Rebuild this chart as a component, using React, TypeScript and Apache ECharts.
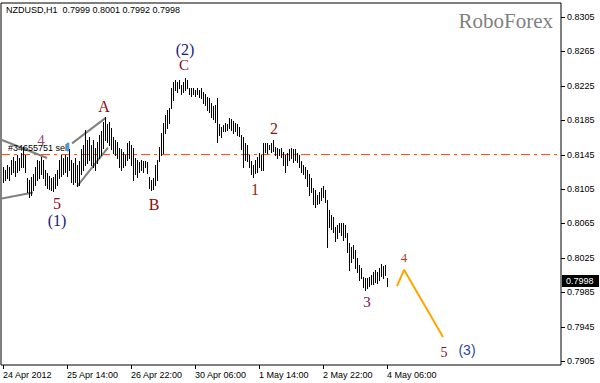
import React, { useEffect, useRef } from "react";
import * as echarts from "echarts";

// time axis labels (every 32 hourly bars)
const xLabelIdx = [0, 32, 64, 96, 128, 160, 192];
const xLabels = ["24 Apr 2012", "25 Apr 14:00", "26 Apr 22:00", "30 Apr 06:00", "1 May 14:00", "2 May 22:00", "4 May 06:00"];

// price axis tick labels
const yTicks = [0.7905, 0.7945, 0.7985, 0.8025, 0.8065, 0.8105, 0.8145, 0.8185, 0.8225, 0.8265, 0.8305];

// hourly bars: highs and lows (NZDUSD H1)
const highs = [
  0.8131, 0.8127, 0.8133, 0.8130, 0.8139, 0.8142, 0.8137, 0.8145, 0.8141, 0.8147, 0.8154, 0.8145, 0.8118, 0.8116, 0.8119, 0.8122,
  0.8130, 0.8139, 0.8137, 0.8142, 0.8139, 0.8127, 0.8124, 0.8120, 0.8118, 0.8119, 0.8122, 0.8127, 0.8139, 0.8144, 0.8141, 0.8145,
  0.8142, 0.8152, 0.8139, 0.8135, 0.8141, 0.8133, 0.8137, 0.8151, 0.8156, 0.8174, 0.8162, 0.8165, 0.8156, 0.8162, 0.8153, 0.8160,
  0.8168, 0.8172, 0.8183, 0.8189, 0.8180, 0.8183, 0.8176, 0.8166, 0.8162, 0.8160, 0.8153, 0.8151, 0.8148, 0.8145, 0.8159, 0.8161,
  0.8156, 0.8153, 0.8141, 0.8139, 0.8136, 0.8139, 0.8137, 0.8138, 0.8136, 0.8119, 0.8116, 0.8118, 0.8133, 0.8139, 0.8154, 0.8170,
  0.8182, 0.8191, 0.8197, 0.8199, 0.8223, 0.8230, 0.8232, 0.8229, 0.8232, 0.8226, 0.8230, 0.8234, 0.8232, 0.8223, 0.8222, 0.8223,
  0.8220, 0.8223, 0.8220, 0.8223, 0.8218, 0.8215, 0.8212, 0.8211, 0.8205, 0.8202, 0.8203, 0.8211, 0.8180, 0.8177, 0.8179, 0.8182,
  0.8180, 0.8188, 0.8186, 0.8184, 0.8182, 0.8180, 0.8177, 0.8168, 0.8165, 0.8159, 0.8156, 0.8145, 0.8137, 0.8133, 0.8139, 0.8142,
  0.8147, 0.8145, 0.8159, 0.8158, 0.8159, 0.8156, 0.8159, 0.8162, 0.8154, 0.8153, 0.8151, 0.8153, 0.8148, 0.8145, 0.8147, 0.8151,
  0.8153, 0.8151, 0.8152, 0.8147, 0.8145, 0.8137, 0.8133, 0.8130, 0.8127, 0.8122, 0.8118, 0.8106, 0.8104, 0.8098, 0.8101, 0.8106,
  0.8108, 0.8104, 0.8092, 0.8081, 0.8075, 0.8073, 0.8061, 0.8063, 0.8066, 0.8065, 0.8066, 0.8063, 0.8054, 0.8042, 0.8037, 0.8040,
  0.8034, 0.8025, 0.8017, 0.8013, 0.8003, 0.8002, 0.8001, 0.8003, 0.8005, 0.8009, 0.8011, 0.8009, 0.8013, 0.8018, 0.8015, 0.8017, 0.8001,
];
const lows = [
  0.8113, 0.8115, 0.8118, 0.8116, 0.8122, 0.8125, 0.8120, 0.8125, 0.8127, 0.8130, 0.8130, 0.8125, 0.8102, 0.8096, 0.8098, 0.8104,
  0.8110, 0.8116, 0.8118, 0.8122, 0.8118, 0.8110, 0.8106, 0.8105, 0.8104, 0.8103, 0.8106, 0.8110, 0.8118, 0.8120, 0.8122, 0.8125,
  0.8120, 0.8127, 0.8113, 0.8111, 0.8113, 0.8108, 0.8110, 0.8122, 0.8127, 0.8133, 0.8135, 0.8139, 0.8133, 0.8130, 0.8127, 0.8135,
  0.8141, 0.8145, 0.8153, 0.8162, 0.8160, 0.8156, 0.8151, 0.8147, 0.8144, 0.8141, 0.8130, 0.8127, 0.8131, 0.8133, 0.8139, 0.8141,
  0.8133, 0.8116, 0.8122, 0.8119, 0.8125, 0.8127, 0.8125, 0.8130, 0.8124, 0.8106, 0.8104, 0.8105, 0.8110, 0.8116, 0.8137, 0.8145,
  0.8147, 0.8170, 0.8176, 0.8182, 0.8199, 0.8209, 0.8220, 0.8218, 0.8223, 0.8215, 0.8218, 0.8220, 0.8223, 0.8215, 0.8213, 0.8215,
  0.8213, 0.8216, 0.8212, 0.8211, 0.8205, 0.8203, 0.8197, 0.8195, 0.8189, 0.8186, 0.8183, 0.8160, 0.8168, 0.8165, 0.8172, 0.8172,
  0.8174, 0.8176, 0.8174, 0.8170, 0.8172, 0.8168, 0.8167, 0.8151, 0.8131, 0.8139, 0.8137, 0.8130, 0.8122, 0.8119, 0.8124, 0.8125,
  0.8130, 0.8127, 0.8127, 0.8148, 0.8147, 0.8151, 0.8148, 0.8149, 0.8145, 0.8141, 0.8144, 0.8142, 0.8133, 0.8125, 0.8133, 0.8139,
  0.8141, 0.8136, 0.8139, 0.8136, 0.8130, 0.8125, 0.8122, 0.8118, 0.8108, 0.8098, 0.8101, 0.8087, 0.8084, 0.8087, 0.8089, 0.8092,
  0.8096, 0.8090, 0.8038, 0.8061, 0.8058, 0.8055, 0.8044, 0.8048, 0.8055, 0.8052, 0.8046, 0.8049, 0.8032, 0.8011, 0.8020, 0.8025,
  0.8013, 0.8009, 0.7999, 0.8002, 0.7991, 0.7988, 0.7990, 0.7992, 0.7994, 0.7995, 0.7997, 0.7996, 0.7999, 0.8004, 0.8002, 0.8005, 0.7992,
];

// last bar OHLC
const lastOpen = 0.7999;
const lastHigh = 0.8001;
const lastLow = 0.7992;
const lastClose = 0.7998;

// pending order level
const orderPrice = 0.8145;

// projected wave (bar index, price)
const projX = [197, 200.5, 220];
const projY = [0.7992, 0.8011, 0.7933];

// drawn trend lines (bar index, price pairs)
const trendLines = [
  [[-0.5, 0.8162], [22, 0.8141]],
  [[-0.5, 0.8094], [15, 0.8101]],
  [[34.5, 0.8158], [51.5, 0.8188]],
  [[37, 0.8108], [52.5, 0.8153]],
];

const X_MIN = -1;
const X_MAX = 279;

const SANS = "Liberation Sans, Arial, sans-serif";
const SERIF = "Liberation Serif, Times New Roman, serif";

function waveText(text: string, x: number, y: number, fill: string, size: number, family = SERIF) {
  return {
    type: "text",
    x,
    y,
    z: 100,
    style: {
      text,
      fill,
      font: `${size}px ${family}`,
      align: "center",
      verticalAlign: "middle",
      textAlign: "center",
      textVerticalAlign: "middle",
    },
  };
}

export default function App() {
  const ref = useRef<HTMLDivElement>(null);

  useEffect(() => {
    if (!ref.current) return;
    const chart = echarts.init(ref.current, null, { renderer: "svg" });
    const barData = highs.map((h, i) => [i, h, lows[i]]);

    const option: any = {
      animation: false,
      backgroundColor: "#fff",
      grid: { left: 1, right: 39, top: 3, bottom: 18, show: true, borderColor: "#000", borderWidth: 1, backgroundColor: "transparent" },
      xAxis: {
        type: "value",
        min: X_MIN,
        max: X_MAX,
        axisLine: { show: false },
        splitLine: { show: false },
        axisTick: { show: true, inside: false, customValues: xLabelIdx, length: 4, lineStyle: { color: "#000" } },
        axisLabel: {
          customValues: xLabelIdx,
          formatter: (v: number) => xLabels[xLabelIdx.indexOf(Math.round(v))] ?? "",
          align: "left",
          color: "#000",
          fontSize: 9,
          fontFamily: SANS,
          margin: 5,
        },
      },
      yAxis: {
        type: "value",
        position: "right",
        min: 0.79003,
        max: 0.83213,
        axisLine: { show: false },
        splitLine: { show: false },
        axisTick: { show: false },
        axisLabel: {
          customValues: yTicks,
          formatter: (v: number) => v.toFixed(4),
          color: "#000",
          fontSize: 9,
          fontFamily: SANS,
          margin: 6,
        },
      },
      series: [
        {
          type: "line",
          data: [[X_MIN, orderPrice], [X_MAX, orderPrice]],
          symbol: "none",
          silent: true,
          lineStyle: { color: "#ff4500", type: [9, 4, 3, 4], width: 1 },
          z: 1,
        },
        {
          type: "custom",
          data: barData,
          encode: { x: 0, y: [1, 2] },
          renderItem: (params: any, api: any) => {
            const x = api.value(0);
            const p1 = api.coord([x, api.value(1)]);
            const p2 = api.coord([x, api.value(2)]);
            const px = Math.round(p1[0]) + 0.5;
            return {
              type: "line",
              shape: { x1: px, y1: Math.round(p1[1]), x2: px, y2: Math.round(p2[1]) + 1 },
              style: { stroke: "#000", lineWidth: 1 },
            };
          },
          z: 3,
        },
        ...trendLines.map((seg) => ({
          type: "line",
          data: seg,
          symbol: "none",
          silent: true,
          lineStyle: { color: "#808080", width: 2 },
          z: 2,
        })),
        {
          type: "line",
          data: projX.map((x, i) => [x, projY[i]]),
          symbol: "none",
          silent: true,
          lineStyle: { color: "#ffa500", width: 2 },
          z: 4,
        },
      ],
    };

    chart.setOption(option);

    // current price box and price-scale ticks
    const py = chart.convertToPixel({ yAxisIndex: 0 }, lastClose) as number;
    const right = chart.convertToPixel({ xAxisIndex: 0 }, X_MAX) as number;
    const tickMarks = yTicks.map((v) => {
      const ty = Math.round(chart.convertToPixel({ yAxisIndex: 0 }, v) as number) + 0.5;
      return {
        type: "line",
        z: 50,
        shape: { x1: right, y1: ty, x2: right + 4, y2: ty },
        style: { stroke: "#000", lineWidth: 1 },
      };
    });

    chart.setOption({
      graphic: [
        ...tickMarks,
        {
          type: "text",
          x: 6,
          y: 10,
          z: 100,
          style: {
            text: `NZDUSD,H1  ${lastOpen.toFixed(4)} ${lastHigh.toFixed(4)} ${lastLow.toFixed(4)} ${lastClose.toFixed(4)}`,
            fill: "#000",
            font: `9px ${SANS}`,
            verticalAlign: "middle",
            textVerticalAlign: "middle",
          },
        },
        {
          type: "text",
          x: 553,
          y: 21,
          z: 100,
          style: {
            text: "RoboForex",
            fill: "#808080",
            font: `21px ${SERIF}`,
            align: "right",
            textAlign: "right",
            verticalAlign: "middle",
            textVerticalAlign: "middle",
          },
        },
        waveText("4", 41, 140, "#9a4a78", 15),
        waveText("5", 57, 203, "#8b0a1a", 16),
        waveText("(1)", 57, 220, "#1a1a7a", 16),
        waveText("A", 104, 106, "#8b0a0a", 16),
        waveText("B", 154, 204, "#8b0a0a", 16),
        waveText("(2)", 185, 49, "#1a1a80", 16),
        waveText("C", 184, 65, "#8b0a0a", 15),
        waveText("2", 274, 128, "#8b1a0a", 16),
        waveText("1", 255, 189, "#8b2a0a", 16),
        waveText("3", 367, 302, "#7b1050", 15),
        waveText("4", 404, 257, "#b03a2e", 13),
        waveText("5", 444, 352, "#8b0a1a", 14),
        waveText("(3)", 467, 350, "#2a46a0", 14, SANS),
        {
          type: "text",
          x: 8,
          y: 148,
          z: 101,
          style: {
            text: "#34655751 sell",
            fill: "#000",
            font: `9px ${SANS}`,
            verticalAlign: "middle",
            textVerticalAlign: "middle",
          },
        },
        {
          type: "rect",
          z: 101,
          shape: { x: 67, y: 143, width: 2, height: 8 },
          style: { fill: "#5aaaf0", stroke: "#2a6ad0", lineWidth: 0.5 },
        },
        {
          type: "rect",
          z: 101,
          shape: { x: right + 1, y: Math.round(py) - 6, width: 37, height: 12 },
          style: { fill: "#000" },
        },
        {
          type: "text",
          x: right + 5,
          y: Math.round(py),
          z: 102,
          style: {
            text: lastClose.toFixed(4),
            fill: "#fff",
            font: `9px ${SANS}`,
            verticalAlign: "middle",
            textVerticalAlign: "middle",
          },
        },
      ],
    });

    return () => chart.dispose();
  }, []);

  return (
    <div
      ref={ref}
      style={{ position: "fixed", left: 0, top: 0, width: 600, height: 383, background: "#fff" }}
    />
  );
}
